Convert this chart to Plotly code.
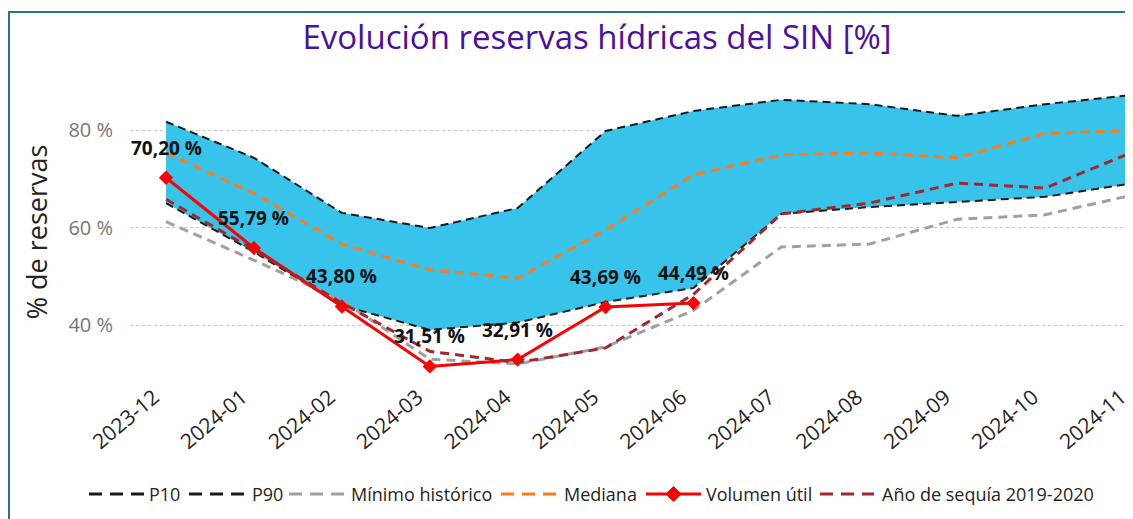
import plotly.graph_objects as go

months = ["2023-12", "2024-01", "2024-02", "2024-03", "2024-04", "2024-05",
          "2024-06", "2024-07", "2024-08", "2024-09", "2024-10", "2024-11"]
p10 = [65.0, 55.0, 44.0, 39.0, 40.5, 44.7, 47.6, 62.8, 64.2, 65.2, 66.3, 69.1]
p90 = [81.7, 74.3, 63.0, 59.9, 64.0, 79.8, 83.9, 86.2, 85.3, 82.9, 85.3, 87.2]
minimo = [61.2, 53.3, 45.0, 33.0, 32.0, 35.5, 43.0, 56.0, 56.6, 61.7, 62.6, 66.7]
mediana = [75.3, 67.0, 56.6, 51.3, 49.6, 59.5, 70.8, 74.9, 75.3, 74.3, 79.3, 79.9]
volumen = [70.20, 55.79, 43.80, 31.51, 32.91, 43.69, 44.49]
sequia = [65.8, 55.4, 44.5, 34.6, 32.3, 35.3, 46.3, 62.8, 65.0, 69.1, 68.1, 75.5]
y_ticks = [40, 60, 80]

FONT = "Open Sans"
OFF = 8  # page body margin
W, H = 1133 - OFF, 519 - OFF
ML, MR = 130 - OFF, 0
MT = 90 - OFF
MB = H - (374 - OFF)
PW, PH = W - ML - MR, H - MT - MB
Y80 = 130 - OFF
PX_PER_PCT = 4.875
BLACK_DASH = dict(color="#1a1a1a", width=2, dash="8px,5px")

C_BLACK, C_GRAY, C_ORANGE, C_RED, C_DRED = "#1a1a1a", "#A0A0A0", "#FF7B1C", "#FF0000", "#A2282E"


def px(x):  # page pixel -> paper x
    return (x - OFF - ML) / PW


def py(y):  # page pixel -> paper y
    return (MT + PH - (y - OFF)) / PH


fig = go.Figure()
fig.add_trace(go.Scatter(x=months, y=p10, mode="lines", line=dict(width=0),
                         showlegend=False, hoverinfo="skip"))
fig.add_trace(go.Scatter(x=months, y=p90, mode="lines", line=dict(width=0),
                         fill="tonexty", fillcolor="#38C4EA",
                         showlegend=False, hoverinfo="skip"))
fig.add_trace(go.Scatter(x=months, y=p10, name="P10", mode="lines", line=BLACK_DASH,
                         showlegend=False))
fig.add_trace(go.Scatter(x=months, y=p90, name="P90", mode="lines", line=BLACK_DASH,
                         showlegend=False))
fig.add_trace(go.Scatter(x=months, y=minimo, name="Mínimo histórico", mode="lines",
                         line=dict(color=C_GRAY, width=3, dash="9px,6px"), showlegend=False))
fig.add_trace(go.Scatter(x=months, y=mediana, name="Mediana", mode="lines",
                         line=dict(color=C_ORANGE, width=3, dash="9px,6px"), showlegend=False))
fig.add_trace(go.Scatter(x=months[:len(volumen)], y=volumen, name="Volumen útil",
                         mode="lines+markers",
                         line=dict(color=C_RED, width=3),
                         marker=dict(symbol="diamond", size=11, color=C_RED),
                         showlegend=False))
fig.add_trace(go.Scatter(x=months, y=sequia, name="Año de sequía 2019-2020", mode="lines",
                         line=dict(color=C_DRED, width=3, dash="9px,6px"), showlegend=False))

for m, v in zip(months, volumen):
    fig.add_annotation(x=m, y=v, text=f"<b>{v:.2f}".replace(".", ",") + " %</b>",
                       showarrow=False, yshift=30,
                       font=dict(family=FONT, size=19, color="#111111"))

# frame
fig.add_shape(type="rect", xref="paper", yref="paper",
              x0=px(9), x1=px(1300), y0=py(900), y1=py(12),
              line=dict(color="#2C6F8F", width=2), fillcolor="rgba(0,0,0,0)", layer="below")

# manual legend (page-pixel layout)
legend_names = ["P10", "P90", "Mínimo histórico", "Mediana", "Volumen útil",
                "Año de sequía 2019-2020"]
legend_colors = [C_BLACK, C_BLACK, C_GRAY, C_ORANGE, C_RED, C_DRED]
legend_dashed = [True, True, True, True, False, True]
legend_sym_x = [(89, 145), (189, 245), (289, 344), (501, 559), (646, 701), (820, 874)]
legend_text_x = [147, 250, 349, 562, 704, 880]
LEG_Y = 494
for name, col, dashed, (s0, s1), tx in zip(legend_names, legend_colors, legend_dashed,
                                           legend_sym_x, legend_text_x):
    fig.add_shape(type="line", xref="paper", yref="paper",
                  x0=px(s0), x1=px(s1), y0=py(LEG_Y), y1=py(LEG_Y),
                  line=dict(color=col, width=3, dash="13px,8px" if dashed else "solid"))
    if not dashed:
        cx, r = (s0 + s1) / 2, 7.5
        fig.add_shape(type="path", xref="paper", yref="paper",
                      path=(f"M {px(cx - r)},{py(LEG_Y)} L {px(cx)},{py(LEG_Y - r)} "
                            f"L {px(cx + r)},{py(LEG_Y)} L {px(cx)},{py(LEG_Y + r)} Z"),
                      fillcolor=col, line=dict(color=col, width=1))
    fig.add_annotation(xref="paper", yref="paper", x=px(tx), y=py(LEG_Y),
                       xanchor="left", yanchor="middle", showarrow=False, text=name,
                       font=dict(family=FONT, size=18, color="#252423"))

fig.update_layout(
    width=W, height=H, autosize=False,
    margin=dict(l=ML, r=MR, t=MT, b=MB, autoexpand=False),
    paper_bgcolor="white", plot_bgcolor="white",
    font=dict(family=FONT, color="#252423"),
    title=dict(text="Evolución reservas hídricas del SIN [%]", x=(597 - OFF) / W,
               xanchor="center", y=1 - (37 - OFF) / H, yanchor="middle",
               font=dict(family=FONT, size=33, color="#4A109E")),
    showlegend=False,
    xaxis=dict(type="category", range=[-0.41, 11.0], showgrid=False, showline=False,
               zeroline=False, tickangle=-40, ticks="", automargin=False,
               tickfont=dict(family=FONT, size=21, color="#252423"),
               ticklabelshift=-12, ticklabelstandoff=6),
    yaxis=dict(range=[80 - (MT + PH - Y80) / PX_PER_PCT, 80 + (Y80 - MT) / PX_PER_PCT],
               tickvals=y_ticks, ticktext=[f"{t} %" for t in y_ticks],
               showgrid=True, gridcolor="#C8C8C8", griddash="dot", gridwidth=1,
               zeroline=False, showline=False, ticks="", automargin=False,
               tickfont=dict(family=FONT, size=20, color="#777777"),
               ticklabelstandoff=16,
               title=dict(text="% de reservas", standoff=12,
                          font=dict(family=FONT, size=27, color="#252423"))),
)

fig.write_html("out.html")
